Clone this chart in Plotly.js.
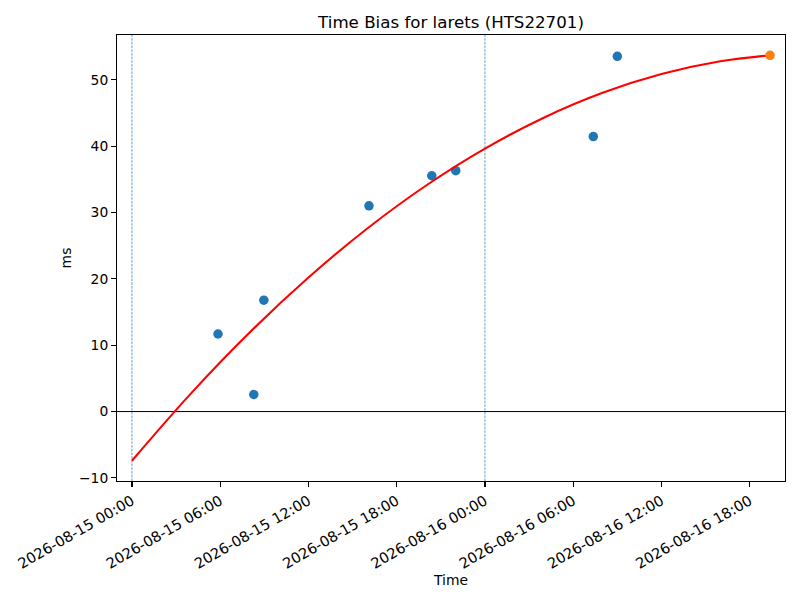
<!DOCTYPE html>
<html>
<head>
<meta charset="utf-8">
<script src="https://cdn.plot.ly/plotly-3.0.1.min.js"></script>
<style>html,body{margin:0;padding:0;background:#fff;}#chart{width:800px;height:600px;}</style>
</head>
<body>
<div id="chart"></div>
<script>
// Measured observations (time, bias in ms)
const obsTimes = ["2026-08-15 05:51","2026-08-15 08:17","2026-08-15 08:58","2026-08-15 16:07","2026-08-15 20:23","2026-08-15 22:01","2026-08-16 07:22","2026-08-16 09:00"];
const obsValues = [11.69, 2.57, 16.79, 31.01, 35.55, 36.31, 41.45, 53.56];
// Fitted curve
const fitTimes = ["2026-08-15 00:00","2026-08-15 04:00","2026-08-15 08:00","2026-08-15 12:00","2026-08-15 16:00","2026-08-15 20:00","2026-08-16 00:00","2026-08-16 04:00","2026-08-16 08:00","2026-08-16 12:00","2026-08-16 16:00","2026-08-16 19:23"];
const fitValues = [-7.41, 2.71, 11.92, 20.21, 27.60, 34.08, 39.64, 44.30, 48.05, 50.88, 52.80, 53.71];
// Predicted point
const predTimes = ["2026-08-16 19:23"];
const predValues = [53.71];
// Day boundaries
const dayLines = ["2026-08-15 00:00","2026-08-16 00:00"];
// Axis ticks
const xTickVals = ["2026-08-15 00:00","2026-08-15 06:00","2026-08-15 12:00","2026-08-15 18:00","2026-08-16 00:00","2026-08-16 06:00","2026-08-16 12:00","2026-08-16 18:00"];
const xTickText = xTickVals.slice();
const yTickVals = [-10, 0, 10, 20, 30, 40, 50];

const font = {family: "DejaVu Sans, sans-serif", size: 13.89, color: "#000"};

const traces = [
  {x: obsTimes, y: obsValues, mode: "markers", type: "scatter",
   marker: {color: "#1f77b4", size: 9.5}, showlegend: false},
  {x: fitTimes, y: fitValues, mode: "lines", type: "scatter",
   line: {color: "#ff0000", width: 2.08, shape: "spline"}, showlegend: false},
  {x: predTimes, y: predValues, mode: "markers", type: "scatter",
   marker: {color: "#ff7f0e", size: 9.5}, showlegend: false}
];

const shapes = dayLines.map(d => ({
  type: "line", xref: "x", yref: "paper", x0: d, x1: d, y0: 0, y1: 1,
  line: {color: "#1f77b4", width: 0.7, dash: "2.6px,1.1px"}, layer: "below"
}));
shapes.push({type: "line", xref: "paper", yref: "y", x0: 0, x1: 1, y0: 0, y1: 0,
  line: {color: "#000", width: 1}, layer: "below"});

const layout = {
  width: 800, height: 600,
  paper_bgcolor: "#fff", plot_bgcolor: "#fff",
  font: font,
  margin: {l: 117, r: 15, t: 35, b: 119, pad: 0},
  title: {text: "Time Bias for larets (HTS22701)", font: {family: font.family, size: 16.67, color: "#000"},
          xref: "paper", x: 0.5, xanchor: "center", yref: "container", y: 1 - 22/600, yanchor: "middle"},
  xaxis: {
    type: "date", range: ["2026-08-14 22:59", "2026-08-16 20:24"],
    tickmode: "array", tickvals: xTickVals, ticktext: xTickText, tickangle: -30,
    tickfont: {family: font.family, size: 14.6, color: "#000"},
    ticks: "outside", ticklen: 4.86, tickwidth: 1.1, tickcolor: "#000",
    showgrid: false, zeroline: false, showline: true, linecolor: "#000", linewidth: 1.1, mirror: true,
    title: {text: "Time", font: font, standoff: 4}, automargin: false
  },
  yaxis: {
    range: [-10.47, 56.77],
    tickmode: "array", tickvals: yTickVals,
    ticks: "outside", ticklen: 4.86, tickwidth: 1.1, tickcolor: "#000",
    showgrid: false, zeroline: false, showline: true, linecolor: "#000", linewidth: 1.1, mirror: true,
    title: {text: "ms", font: font, standoff: 4}, automargin: false
  },
  shapes: shapes
};

Plotly.newPlot("chart", traces, layout, {displayModeBar: false, staticPlot: true});
</script>
</body>
</html>
